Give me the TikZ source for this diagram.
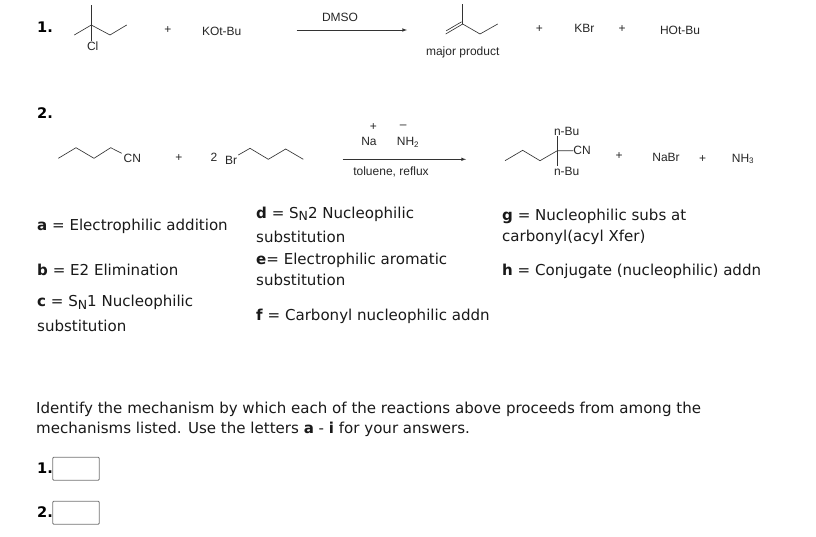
\documentclass[tikz,border=0pt]{standalone}
\usepackage{fontspec}
\usetikzlibrary{arrows.meta}
\setmainfont{DejaVu Sans}
\newfontfamily\chemfont{Liberation Sans}
\newcommand{\SN}{S\raisebox{-2.5pt}{\fontsize{12.5}{12.5}\selectfont N}}
\tikzset{
    bond/.style={line width=0.65pt, black!80},
    rxnarrow/.style={line width=0.65pt, black!80, -{latex[scale=1.5]}},
    chem/.style={font=\chemfont\fontsize{12}{14}\selectfont, text=black!85, inner sep=0pt},
    legend/.style={font=\fontsize{15.05}{17}\selectfont, text=black!90, anchor=base west, inner sep=0pt},
    num/.style={font=\bfseries\fontsize{14.6}{17}\selectfont, anchor=base west, inner sep=0pt},
    answerbox/.style={draw=black!55, line width=0.8pt, rounded corners=1pt, minimum width=46.5pt, minimum height=23pt, inner sep=0pt}
}
\begin{document}
\begin{tikzpicture}[x=1pt, y=-1pt]
    \useasboundingbox (0, 0) rectangle (816, 536);

    % reaction 1
    \coordinate (A1) at (91.3, 25);
    \coordinate (A2) at (91.3, 5);
    \coordinate (A3) at (74.3, 35);
    \coordinate (A4) at (110, 35);
    \coordinate (A5) at (126.7, 25);
    \coordinate (A6) at (91.3, 41);
    \coordinate (P1) at (462.7, 24);
    \coordinate (P2) at (462.7, 4);
    \coordinate (P3) at (445.7, 34);
    \coordinate (P4) at (480, 34);
    \coordinate (P5) at (497.7, 24);
    \coordinate (P6) at (446.2, 30.8);
    \coordinate (P7) at (461.6, 21.8);
    \coordinate (R1) at (296.7, 30);
    \coordinate (R2) at (407, 30);

    \node[num] (num1) at (37, 32) {1.};
    \draw[bond] (A3) -- (A1) -- (A4) -- (A5); % chain
    \draw[bond] (A2) -- (A1) -- (A6);
    \node[chem] (cl) at (92.7, 46.7) {Cl};
    \node[chem] (plus1) at (168, 30) {+};
    \node[chem] (kotbu) at (221.7, 31.7) {KOt-Bu};
    \node[chem] (dmso) at (340, 17.3) {DMSO};
    \draw[rxnarrow] (R1) -- (R2);
    \draw[bond] (P3) -- (P1) -- (P4) -- (P5); % chain
    \draw[bond] (P6) -- (P7); % double bond
    \draw[bond] (P2) -- (P1);
    \node[chem] (major) at (462.7, 52.7) {major product};
    \node[chem] (plus2) at (539.3, 28.7) {+};
    \node[chem] (kbr) at (584.3, 28.3) {KBr};
    \node[chem] (plus3) at (622, 28.7) {+};
    \node[chem] (hotbu) at (680, 30) {HOt-Bu};

    % reaction 2
    \coordinate (B1) at (58.3, 158.3);
    \coordinate (B2) at (76, 147.7);
    \coordinate (B3) at (94, 158.3);
    \coordinate (B4) at (110.7, 147.7);
    \coordinate (B5) at (121.7, 153.3);
    \coordinate (C1) at (238.3, 155);
    \coordinate (C2) at (250, 148.3);
    \coordinate (C3) at (268.3, 159.3);
    \coordinate (C4) at (285.7, 149);
    \coordinate (C5) at (303.3, 159.3);
    \coordinate (D1) at (505, 160.7);
    \coordinate (D2) at (522.7, 150.3);
    \coordinate (D3) at (540, 160.7);
    \coordinate (D4) at (557.3, 150.7);
    \coordinate (D5) at (557.3, 136);
    \coordinate (D6) at (557.3, 165.7);
    \coordinate (D7) at (573.3, 150.7);
    \coordinate (R3) at (342.7, 159.3);
    \coordinate (R4) at (466, 159.3);

    \node[num] (num2) at (37, 118) {2.};
    \draw[bond] (B1) -- (B2) -- (B3) -- (B4) -- (B5);
    \node[chem] (cn1) at (132.3, 158.3) {CN};
    \node[chem] (plus4) at (179, 157.7) {+};
    \node[chem] (two) at (214, 157.7) {2};
    \node[chem] (br) at (231, 160) {Br};
    \draw[bond] (C1) -- (C2) -- (C3) -- (C4) -- (C5);
    \node[chem] (na) at (369, 141.3) {Na};
    \node[chem] (nacharge) at (373.3, 127.3) {+};
    \node[chem] (nh2) at (408, 142) {NH\textsubscript{2}};
    \node[chem] (nhcharge) at (403.3, 126.7) {–};
    \draw[rxnarrow] (R3) -- (R4);
    \node[chem] (toluene) at (391, 172) {toluene, reflux};
    \draw[bond] (D1) -- (D2) -- (D3) -- (D4) -- (D7);
    \draw[bond] (D5) -- (D6);
    \node[chem] (nbu1) at (566.7, 131.3) {n-Bu};
    \node[chem] (cn2) at (582, 150.7) {CN};
    \node[chem] (nbu2) at (566.7, 171.3) {n-Bu};
    \node[chem] (plus5) at (619, 156) {+};
    \node[chem] (nabr) at (666, 157.7) {NaBr};
    \node[chem] (plus6) at (702.7, 159.3) {+};
    \node[chem] (nh3) at (743, 159) {NH\textsubscript{3}};

    % mechanisms
    \node[legend] (a) at (37, 230.7) {\textbf{a} = Electrophilic addition};
    \node[legend] (b) at (37, 275) {\textbf{b} = E2 Elimination};
    \node[legend] (c) at (37, 306.7) {\textbf{c} = \SN1 Nucleophilic};
    \node[legend] (c2) at (37, 331.7) {substitution};
    \node[legend] (d) at (256, 218) {\textbf{d} = \SN2 Nucleophilic};
    \node[legend] (d2) at (256, 242.7) {substitution};
    \node[legend] (e) at (256, 264.7) {\textbf{e}= Electrophilic aromatic};
    \node[legend] (e2) at (256, 285) {substitution};
    \node[legend] (f) at (256, 320) {\textbf{f} = Carbonyl nucleophilic addn};
    \node[legend] (g) at (502, 220.5) {\textbf{g} = Nucleophilic subs at};
    \node[legend] (g2) at (502, 241) {carbonyl(acyl Xfer)};
    \node[legend] (h) at (502, 275) {\textbf{h} = Conjugate (nucleophilic) addn};

    % question
    \node[legend] (q1) at (36, 413) {Identify the mechanism by which each of the reactions above proceeds from among the};
    \node[legend] (q2) at (36, 433) {mechanisms listed. Use the letters \textbf{a} - \textbf{i} for your answers.};
    \node[num] (ans1) at (37, 473) {1.};
    \node[answerbox] (box1) at (76, 468.8) {};
    \node[num] (ans2) at (37, 517) {2.};
    \node[answerbox] (box2) at (76, 512.8) {};
\end{tikzpicture}
\end{document}
